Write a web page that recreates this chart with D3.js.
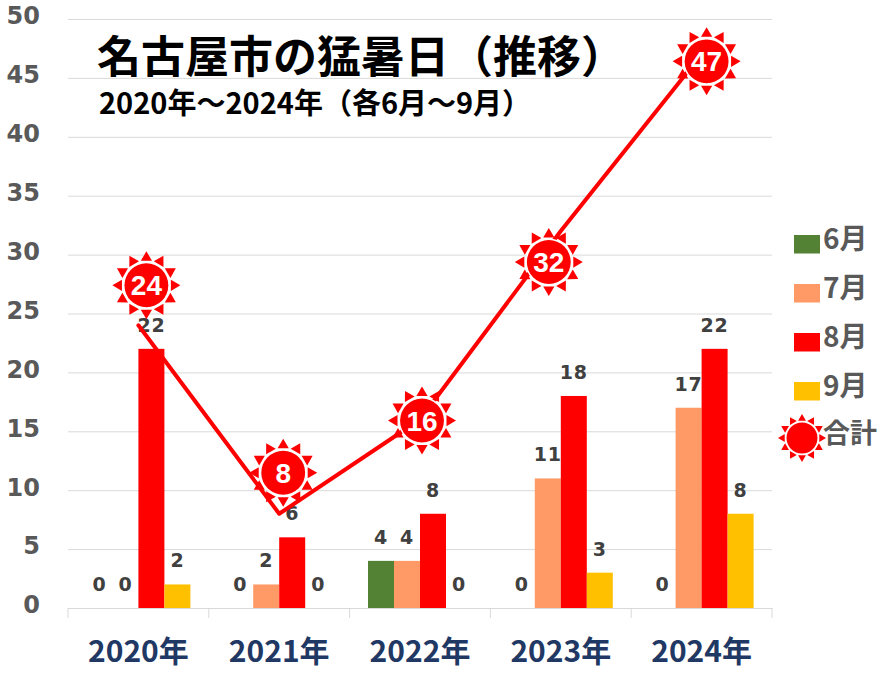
<!DOCTYPE html>
<html><head><meta charset="utf-8">
<script src="https://cdn.jsdelivr.net/npm/d3@7"></script>
<style>html,body{margin:0;padding:0;background:#fff}svg{display:block}</style>
</head><body><div id="chart"></div>
<script>
const years = ["2020年","2021年","2022年","2023年","2024年"];
const months = ["6月","7月","8月","9月"];
const june = [0,0,4,0,0];
const july = [0,2,4,11,17];
const august = [22,6,8,18,22];
const september = [2,0,0,3,8];
const total = [24,8,16,32,47];
const yTicks = [0,5,10,15,20,25,30,35,40,45,50];
const titleText = "名古屋市の猛暑日（推移）";
const subtitleText = "2020年～2024年（各6月～9月）";
const totalLabel = "合計";

const W=880,H=680;
const m={left:68,right:772,top:19,bottom:608};
const colors=["#548235","#ff9966","#ff0000","#ffc000"];
const cjk='"Noto Sans CJK JP","Noto Sans",sans-serif';
const num='"DejaVu Sans",Verdana,sans-serif';
const series=[june,july,august,september];

const svg=d3.select("#chart").append("svg").attr("width",W).attr("height",H).attr("viewBox",`0 0 ${W} ${H}`);
const x=d3.scaleBand().domain(years).range([m.left,m.right]);
const barInner=d3.scaleBand().domain(months).range([0,104]);
const y=d3.scaleLinear().domain([0,50]).range([m.bottom,m.top]);
const barLeft=(yr,mo)=>x(yr)+(x.bandwidth()-104)/2+barInner(mo);

// y axis + grid
const gy=svg.append("g").attr("transform",`translate(${m.left},0)`)
  .call(d3.axisLeft(y).tickValues(yTicks).tickSize(-(m.right-m.left)).tickPadding(28));
gy.select(".domain").remove();
gy.selectAll(".tick line").attr("stroke","#d9d9d9").attr("stroke-width",1);
gy.selectAll(".tick text").attr("fill","#595959").attr("font-family",num).attr("font-weight",700).attr("font-size",24).attr("dy","0.2em");

// x axis with boundary ticks
const gx=svg.append("g").attr("transform",`translate(0,${m.bottom})`)
  .call(d3.axisBottom(x).tickSize(0).tickPadding(33));
gx.select(".domain").attr("stroke","#d9d9d9");
gx.selectAll(".tick text").attr("fill","#1f3864").attr("font-family",cjk).attr("font-weight",700).attr("font-size",30);
gx.selectAll("line.b").data(d3.range(years.length+1)).join("line").attr("class","b")
  .attr("x1",i=>m.left+i*x.step()).attr("x2",i=>m.left+i*x.step()).attr("y1",0).attr("y2",10).attr("stroke","#d9d9d9");

// bars
months.forEach((mo,si)=>{
  svg.append("g").selectAll("rect").data(years).join("rect")
    .attr("x",yr=>barLeft(yr,mo)).attr("width",barInner.bandwidth())
    .attr("y",(yr,i)=>y(series[si][i])).attr("height",(yr,i)=>y(0)-y(series[si][i]))
    .attr("fill",colors[si]);
  svg.append("g").selectAll("text").data(years).join("text")
    .attr("x",yr=>barLeft(yr,mo)+barInner.bandwidth()/2)
    .attr("y",(yr,i)=>y(series[si][i])-17)
    .attr("text-anchor","middle").attr("fill","#404040")
    .attr("font-family",num).attr("font-weight",700).attr("font-size",19).attr("letter-spacing",0.8)
    .text((yr,i)=>series[si][i]);
});

// total line
const cx=yr=>x(yr)+x.bandwidth()/2;
svg.append("path").datum(total)
  .attr("d",d3.line().x((d,i)=>cx(years[i])).y(d=>y(d)))
  .attr("fill","none").attr("stroke","#ff0000").attr("stroke-width",4).attr("stroke-linecap","round").attr("stroke-linejoin","round");

// sun marker as a d3.symbol type (size = outer radius)
const sunRays={draw(ctx,size){
  const r=size;
  for(let k=0;k<12;k++){
    const a=k*Math.PI/6, c=Math.cos(a), s=Math.sin(a);
    const r0=r*0.72, r1=r, hw=r*0.165;
    ctx.moveTo(s*r1,-c*r1);
    ctx.lineTo(s*r0+c*hw,-c*r0+s*hw);
    ctx.lineTo(s*r0-c*hw,-c*r0-s*hw);
    ctx.closePath();
  }
}};
function sun(g,px,py,R){
  const n=g.append("g").attr("transform",`translate(${px},${py})`);
  n.append("path").attr("d",d3.symbol().type(sunRays).size(R)()).attr("fill","#ff0000");
  n.append("circle").attr("r",R*0.69).attr("fill","#fff");
  n.append("circle").attr("r",R*0.645).attr("fill","#ff0000");
  return n;
}
// the suns are hand-placed near the line points in the reference
const sunShift=[[8,-40],[4,-41],[2,1],[-12,31],[5,7]];
const sunG=svg.append("g");
total.forEach((v,i)=>{
  const n=sun(sunG,cx(years[i])+sunShift[i][0],y(v)+sunShift[i][1],34);
  n.append("text").attr("text-anchor","middle").attr("dy","0.36em")
   .attr("fill","#fff").attr("font-family",'"Liberation Sans",Arial,sans-serif').attr("font-weight",700).attr("font-size",28).text(v);
});

// legend
const legY=d3.scalePoint().domain(months).range([244,391]);
const lg=svg.append("g");
months.forEach((mo,i)=>{
  lg.append("rect").attr("x",794).attr("y",legY(mo)-9).attr("width",26).attr("height",18.5).attr("fill",colors[i]);
  lg.append("text").attr("x",823).attr("y",legY(mo)-5).attr("dy","0.36em").attr("fill","#595959")
    .attr("font-family",cjk).attr("font-weight",700).attr("font-size",28).text(mo);
});
sun(lg,802,438,24);
lg.append("text").attr("x",823).attr("y",433).attr("dy","0.36em").attr("fill","#595959")
  .attr("font-family",cjk).attr("font-weight",700).attr("font-size",27).text(totalLabel);

// titles
svg.append("text").attr("x",97).attr("y",73).attr("fill","#000").attr("font-family",cjk).attr("font-weight",700).attr("font-size",44).text(titleText);
svg.append("text").attr("x",99).attr("y",114).attr("fill","#000").attr("font-family",cjk).attr("font-weight",700).attr("font-size",29).text(subtitleText);
</script></body></html>
